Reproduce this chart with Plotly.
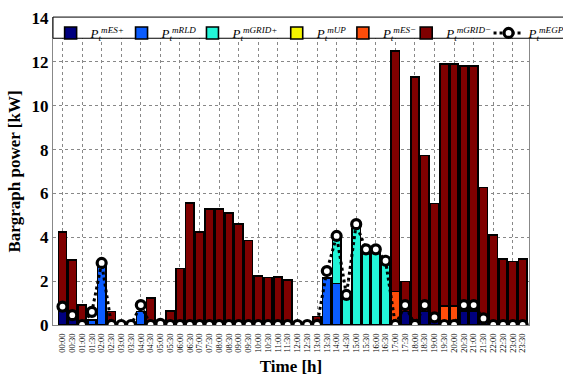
import plotly.graph_objects as go

times = ["00:00","00:30","01:00","01:30","02:00","02:30","03:00","03:30",
         "04:00","04:30","05:00","05:30","06:00","06:30","07:00","07:30",
         "08:00","08:30","09:00","09:30","10:00","10:30","11:00","11:30",
         "12:00","12:30","13:00","13:30","14:00","14:30","15:00","15:30",
         "16:00","16:30","17:00","17:30","18:00","18:30","19:00","19:30",
         "20:00","20:30","21:00","21:30","22:00","22:30","23:00","23:30"]

es_plus = [0.62,0.38,0,0,0,0,0,0, 0,0,0,0,0,0,0,0,
           0,0,0,0,0,0,0,0, 0,0,0,0,0,0,0,0,
           0,0,0,0.62,0,0.62,0.35,0, 0,0.65,0.65,0.15,0,0,0,0]
rld = [0,0,0,0.23,2.75,0,0,0, 0.61,0,0,0,0,0,0,0,
       0,0,0,0,0,0,0,0, 0,0,0,2.13,1.9,0,0,0,
       0,0,0,0,0,0,0,0, 0,0,0,0,0,0,0,0]
grid_plus = [0,0,0,0,0,0,0,0, 0,0,0,0,0,0,0,0,
             0,0,0,0,0,0,0,0, 0,0,0,0,2.06,1.22,4.41,3.34,
             3.34,2.89,0,0,0,0,0,0, 0,0,0,0,0,0,0,0]
up = [0]*48
es_minus = [0,0,0,0,0,0,0,0, 0,0,0,0,0,0,0,0,
            0,0,0,0,0,0,0,0, 0,0,0,0,0,0,0,0,
            0,0,1.52,0,0.25,0,0,0.87, 0.87,0,0,0,0,0,0,0]
grid_minus = [3.62,2.59,0.9,0,0,0.61,0.08,0.08, 0,1.22,0.08,0.65,2.57,5.57,4.24,5.3,
              5.3,5.12,4.6,3.85,2.24,2.16,2.18,2.05, 0.08,0.08,0.38,0,0,0,0,0,
              0,0,10.98,1.36,11.05,7.11,5.2,11.03, 11.03,11.15,11.15,6.12,4.1,3.0,2.9,3.0]
egp = [0.84,0.45,0,0.6,2.83,0,0,0, 0.91,0,0.05,0,0,0,0,0,
       0,0,0,0,0,0,0,0, 0,0,0,2.46,4.06,1.37,4.6,3.45,
       3.45,2.93,0,0.91,0,0.91,0.35,0, 0,0.91,0.91,0.3,0,0,0,0]

x = list(range(len(times)))
serif = "Liberation Serif"

def lab(s):
    return "<i>P<sub>t</sub><sup>m" + s + "</sup></i>"

fig = go.Figure()
series = [
    ("ES+", es_plus, "#00007f"),
    ("RLD", rld, "#0a5cff"),
    ("GRID+", grid_plus, "#22f5d8"),
    ("UP", up, "#f5f500"),
    ("ES−", es_minus, "#ff4d0a"),
    ("GRID−", grid_minus, "#7f0000"),
]
legend_x = [-0.005, 0.144, 0.293, 0.470, 0.609, 0.742, 0.915]
legend_names = ["legend", "legend2", "legend3", "legend4", "legend5", "legend6", "legend7"]

for i, (name, vals, col) in enumerate(series):
    fig.add_trace(go.Bar(x=x, y=vals, name=lab(name), width=0.85, legend=legend_names[i],
                         marker=dict(color=col, line=dict(color="black", width=1.6))))

fig.add_trace(go.Scatter(x=x, y=egp, name=lab("EGP"), mode="lines+markers", legend="legend7",
                         line=dict(color="black", width=3, dash="dot"),
                         marker=dict(symbol="circle", size=9, color="white",
                                     line=dict(color="black", width=3.2))))

# invisible trace for the hourly grid axis
fig.add_trace(go.Scatter(x=[0], y=[0], xaxis="x2", mode="markers",
                         marker=dict(opacity=0), showlegend=False, hoverinfo="skip"))

xr = [-0.97, 47.65]
layout_legends = {}
for nm, lx in zip(legend_names, legend_x):
    layout_legends[nm] = dict(orientation="h", x=lx, y=1.0, xanchor="left", yanchor="top",
                              bgcolor="rgba(0,0,0,0)", borderwidth=0,
                              font=dict(family=serif, size=13), itemwidth=30)

fig.update_layout(
    width=563, height=376,
    margin=dict(l=53, r=34, t=18, b=51, autoexpand=False),
    barmode="stack", bargap=0.15,
    plot_bgcolor="white", paper_bgcolor="white",
    font=dict(family=serif, color="black"),
    xaxis=dict(range=xr, tickmode="array", tickvals=x, ticktext=times,
               tickangle=-90, tickfont=dict(family=serif, size=8.5),
               ticklabelstandoff=4,
               showgrid=False, showline=True, linecolor="#888", linewidth=1,
               mirror=True, ticks="", zeroline=False,
               title=dict(text="<b>Time [h]</b>", font=dict(family=serif, size=17), standoff=10)),
    xaxis2=dict(range=xr, overlaying="x", tickmode="array", tickvals=x[::2],
                showticklabels=False, showgrid=True, gridcolor="#888",
                griddash="dot", gridwidth=1, zeroline=False, showline=False),
    yaxis=dict(range=[0, 14], dtick=2, showgrid=True, gridcolor="#888",
               griddash="dot", gridwidth=1, zeroline=False,
               showline=True, linecolor="#888", linewidth=1, mirror=True,
               tickfont=dict(family=serif, size=17), tickprefix="<b>", ticksuffix="</b>",
               title=dict(text="<b>Bargraph power [kW]</b>", font=dict(family=serif, size=17), standoff=6)),
    shapes=[dict(type="rect", xref="paper", yref="paper", x0=0, x1=1.08, y0=0.934, y1=1.003,
                 fillcolor="white", line=dict(color="black", width=1), layer="above")],
    **layout_legends,
)

fig.write_html("out.html")
